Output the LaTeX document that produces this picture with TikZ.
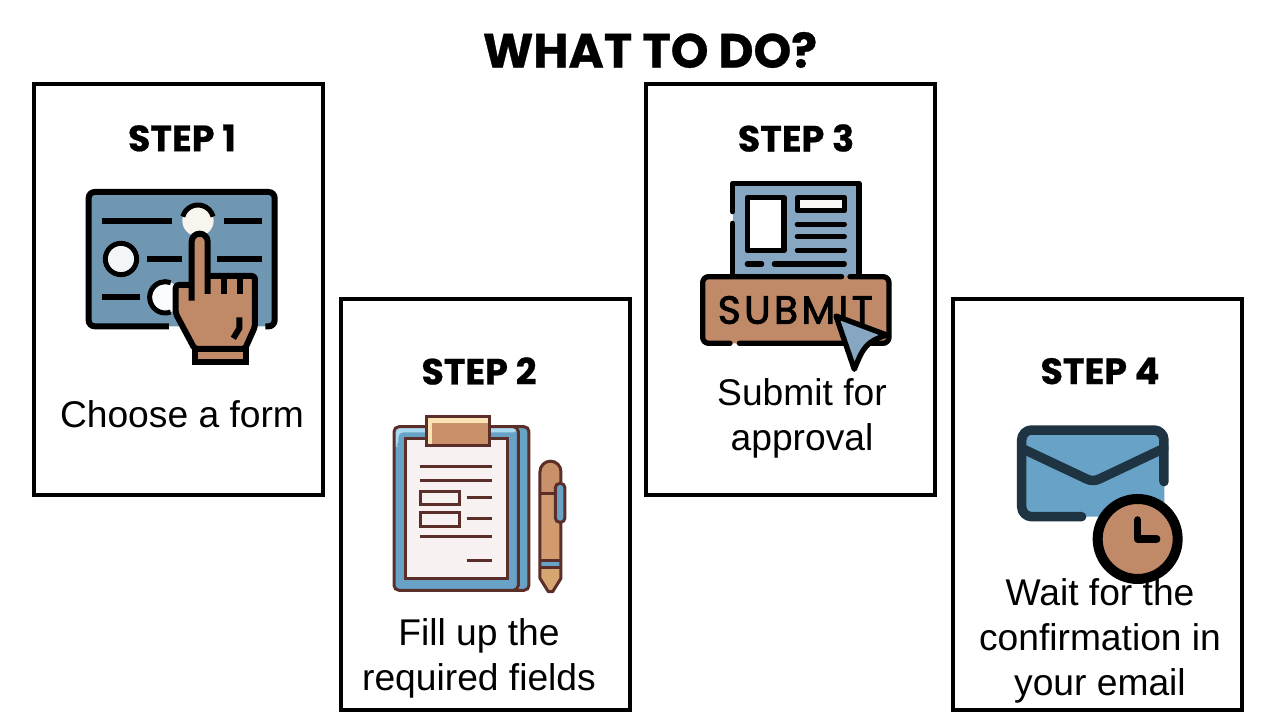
\documentclass[tikz,border=0pt]{standalone}
\usepackage{fontspec}
\setmainfont{Liberation Sans}
\newfontfamily\popb[BoldFont={Poppins Bold},BoldFeatures={FakeBold=0.6}]{Poppins}
\newfontfamily\popm[FakeBold=2.5,LetterSpace=9]{Poppins}
\definecolor{slateB}{HTML}{7097B1}
\definecolor{skin}{HTML}{C08A68}
\definecolor{brownL}{HTML}{5B2E2A}
\definecolor{boardB}{HTML}{68A3C7}
\definecolor{boardL}{HTML}{A9D9EE}
\definecolor{paperC}{HTML}{F7F1F1}
\definecolor{clipC}{HTML}{C9916A}
\definecolor{clipH}{HTML}{FBE3B5}
\definecolor{penB}{HTML}{D29B6F}
\definecolor{penT}{HTML}{D6A672}
\definecolor{docB}{HTML}{86A6C2}
\definecolor{envL}{HTML}{1F3442}
\tikzset{
  card/.style={draw=black,line width=3.6pt,fill=white},
  titletext/.style={font=\popb\bfseries\fontsize{48}{50}\selectfont,inner sep=0pt},
  steptext/.style={font=\popb\bfseries\fontsize{36.5}{38}\selectfont,inner sep=0pt},
  bodytext/.style={font=\fontsize{37.2}{45}\selectfont,align=center,inner sep=0pt},
  blk/.style={draw=black,line width=6pt},
  ring/.style={draw=black,line width=5pt},
  brn/.style={draw=brownL,line width=3pt},
  sub/.style={draw=black,line width=5.3pt,line cap=round,line join=round},
  env/.style={draw=envL,line width=9.5pt,line cap=round,line join=round},
}
\begin{document}
\begin{tikzpicture}[x=1pt,y=-1pt]
\useasboundingbox (0,0) rectangle (1280,720);
\fill[white] (0,0) rectangle (1280,720);
\draw[card] (34,84) rectangle (322.7,494.7);
\draw[card] (341,299) rectangle (629.7,709.7);
\draw[card] (646,84) rectangle (934.7,494.7);
\draw[card] (953,299) rectangle (1241.7,709.7);
\node[titletext] (title) at (650,50) {WHAT TO DO?};
\node[steptext] (s1) at (182,138) {STEP 1};
\node[steptext] (s2) at (479,371) {STEP 2};
\node[steptext] (s3) at (796,138) {STEP 3};
\node[steptext] (s4) at (1100,371) {STEP 4};
% icon 1
\begin{scope}[shift={(60,170)},x=0.3333pt,y=-0.3333pt]
\fill[slateB,rounded corners=6pt] (86,66) rectangle (644,469);
\draw[blk,rounded corners=6pt] (327,469) -- (86,469) -- (86,66) -- (644,66) -- (644,469) -- (616,469);
\draw[blk] (127,152) -- (337,152) (491,152) -- (605,152) (262,267) -- (365,267) (472,267) -- (605,267) (127,382) -- (240,382);
\fill[color={rgb,255:red,248;green,244;blue,238}] (414,152) circle (47);
\draw[ring] (414,152) ++(195:47) arc (195:345:47);
\fill[color={rgb,255:red,242;green,246;blue,248}] (183,267) circle (47);
\draw[ring] (183,267) circle (47);
\fill[color={rgb,255:red,250;green,252;blue,254}] (316,382) circle (47);
\draw[ring] (316,382) ++(70:47) arc (70:290:47);
\fill[skin] (395,345) -- (395,215) arc (180:360:24) -- (443,318) -- (585,318) -- (585,470) -- (555,537) -- (404,537) -- (347,430) -- (347,345) -- cycle;
\draw[blk,line join=round,rounded corners=3pt] (395,345) -- (347,345) -- (347,430) -- (404,537) -- (555,537) -- (585,470) -- (585,318) -- (443,318);
\draw[blk] (395,392) -- (395,215) arc (180:360:24) -- (443,372);
\draw[blk] (491,325) -- (491,372) (539,325) -- (539,372);
\draw[blk] (538,442) -- (538,475) -- (520,505);
\fill[skin] (404,537) rectangle (559,576);
\draw[blk] (404,537) rectangle (559,576);
\end{scope}
% icon 2
\begin{scope}[shift={(370,400)},x=0.3333pt,y=-0.3333pt]
\draw[brn,fill=boardB,rounded corners=5pt] (400,80) rectangle (477,571);
\fill[boardB,rounded corners=5pt] (72,80) rectangle (445,571);
\fill[boardL,rounded corners=5pt] (72,80) -- (445,80) -- (445,97) -- (85,97) -- (85,140) -- (72,140) -- cycle;
\draw[brn,rounded corners=5pt] (72,80) rectangle (445,571);
\draw[brn,fill=paperC] (105,115) rectangle (413,537);
\fill[clipC] (170,50) rectangle (358,135);
\fill[clipH] (170,50) rectangle (358,68);
\fill[clipH] (170,50) rectangle (186,135);
\draw[brn] (170,50) rectangle (358,135);
\draw[brn] (150,200) -- (366,200) (150,242) -- (366,242) (290,293) -- (366,293) (290,356) -- (366,356) (150,409) -- (366,409) (290,482) -- (366,482);
\draw[brn] (152,275) rectangle (269,314);
\draw[brn] (152,339) rectangle (269,379);
\fill[penB] (510,280) rectangle (573,482);
\fill[clipC] (510,280) -- (510,215) arc (180:360:31.5) -- (573,280) -- cycle;
\fill[boardB] (510,482) rectangle (573,503);
\fill[penT] (510,503) -- (510,535) -- (535,577) -- (548,577) -- (573,535) -- (573,503) -- cycle;
\draw[brn,line join=round] (510,503) -- (510,535) -- (535,575) -- (548,575) -- (573,535) -- (573,503) -- (573,215) arc (360:180:31.5) -- cycle;
\draw[brn] (510,280) -- (573,280) (510,482) -- (573,482) (510,503) -- (573,503);
\draw[brn,fill=boardB,rounded corners=4.5pt] (556,250) rectangle (585,367);
\end{scope}
% icon 3
\begin{scope}[shift={(680,170)},x=0.3333pt,y=-0.3333pt]
\fill[docB] (158,40) rectangle (537,320);
\draw[sub] (158,125) -- (158,40) -- (537,40) -- (537,320);
\draw[sub] (158,160) -- (158,320);
\draw[sub,fill=white] (202,83) rectangle (312,242);
\draw[sub,fill=paperC!60!white] (352,83) rectangle (493,122);
\draw[sub] (352,163) -- (493,163) (352,200) -- (493,200) (352,241) -- (493,241) (202,282) -- (245,282) (283,282) -- (493,282);
\fill[skin,rounded corners=6pt] (68,320) rectangle (627,520);
\draw[sub,rounded corners=6pt] (485,320) -- (68,320) -- (68,520) -- (150,520);
\draw[sub,rounded corners=6pt] (178,520) -- (627,520) -- (627,320) -- (510,320);
\node[font=\popm\fontsize{39}{42}\selectfont,inner sep=0pt] (subm) at (346,420) {SUBMIT};
\draw[sub,fill=docB] (468,438) -- (620,495) .. controls (560,515) and (550,530) .. (523,598) -- cycle;
\end{scope}
% icon 4
\begin{scope}[shift={(1000,410)},x=0.3333pt,y=-0.3333pt]
\fill[boardB,rounded corners=8pt] (65,60) rectangle (493,320);
\draw[env,rounded corners=10pt] (245,320) -- (65,320) -- (65,60) -- (492,60) -- (492,215);
\draw[env] (65,115) -- (260,207) .. controls (272,213) and (286,213) .. (298,207) -- (492,115);
\draw[draw=black,line width=10pt,fill=skin] (413,387) circle (120);
\draw[draw=black,line width=7.5pt,line cap=round,line join=round] (413,330) -- (413,387) -- (470,387);
\end{scope}
\node[bodytext] (b1) at (182,414) {Choose a form};
\node[bodytext] (b2) at (479,658.5) {Fill up the\\required fields};
\node[bodytext] (b3) at (802,418.5) {Submit for\\approval};
\node[bodytext] (b4) at (1100,641) {Wait for the\\confirmation in\\your email};
\end{tikzpicture}
\end{document}
